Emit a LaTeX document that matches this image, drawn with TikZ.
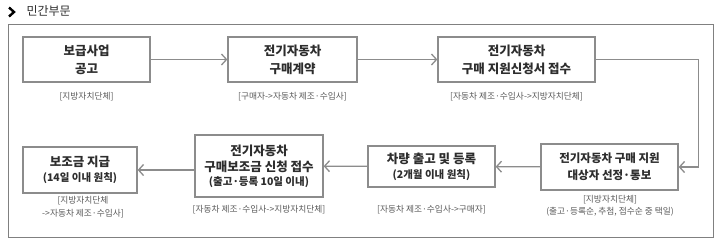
\documentclass[tikz,border=0pt]{standalone}
\usepackage{fontspec}
\setmainfont{Noto Sans CJK KR}
\usepackage{tikz}
\usetikzlibrary{arrows.meta}
\definecolor{framegray}{RGB}{128,128,128}
\definecolor{boxgray}{RGB}{140,140,140}
\definecolor{textdark}{RGB}{45,45,45}
\definecolor{notegray}{RGB}{90,90,90}
\newcommand{\subfont}{\fontsize{10.5}{13}\selectfont\bfseries}
\begin{document}
\begin{tikzpicture}[x=1pt,y=-1pt,
    stepbox/.style={draw=boxgray,line width=1.3pt,fill=white,align=center,inner sep=0pt,
      text=textdark,font=\fontsize{12.5}{18}\selectfont\bfseries},
    note/.style={align=center,text=notegray,font=\fontsize{8.7}{12.5}\selectfont},
    flow/.style={draw=boxgray,line width=1.3pt,-{Straight Barb[length=5pt,width=11pt]}}]
  \useasboundingbox (0,0) rectangle (723,247);
  % heading
  \draw[line width=2.4pt,black] (9,7.5)--(14,12)--(9,16.5);
  \node[anchor=west,text=textdark,font=\fontsize{12}{14}\selectfont] (title) at (23,11.5) {민간부문};
  \draw[framegray,line width=.9pt] (8,24) rectangle (713,237);
  % upper row
  \node[stepbox,minimum width=127,minimum height=45] (b1) at (86.5,59.5) {보급사업\\공고};
  \node[stepbox,minimum width=129,minimum height=45] (b2) at (292.5,59.5) {전기자동차\\구매계약};
  \node[stepbox,minimum width=157,minimum height=45] (b3) at (516.5,59.5) {전기자동차\\구매 지원신청서 접수};
  \node[note] (n1) at (86.5,97) {[지방자치단체]};
  \node[note] (n2) at (292.5,97) {[구매자->자동차 제조·수입사]};
  \node[note] (n3) at (516.5,97) {[자동차 제조·수입사->지방자치단체]};
  % lower row
  \node[stepbox,minimum width=137,minimum height=46,font=\fontsize{11.5}{17}\selectfont\bfseries] (b4) at (609.5,167) {전기자동차 구매 지원\\대상자 선정·통보};
  \node[stepbox,minimum width=127,minimum height=41] (b5) at (431.5,166.5) {차량 출고 및 등록\\[-3pt]{\subfont (2개월 이내 원칙)}};
  \node[stepbox,minimum width=128,minimum height=62,font=\fontsize{12.5}{16}\selectfont\bfseries] (b6) at (259,166) {전기자동차\\구매보조금 신청 접수\\[-2pt]{\subfont (출고·등록 10일 이내)}};
  \node[stepbox,minimum width=114,minimum height=46] (b7) at (80,170) {보조금 지급\\[-3pt]{\subfont (14일 이내 원칙)}};
  \node[note] (n4) at (610,206) {[지방자치단체]\\(출고·등록순, 추첨, 접수순 중 택일)};
  \node[note] (n5) at (431.5,210) {[자동차 제조·수입사->구매자]};
  \node[note] (n6) at (259,210) {[자동차 제조·수입사->지방자치단체]};
  \node[note] (n7) at (83,207) {[지방자치단체\\->자동차 제조·수입사]};
  % connectors
  \draw[flow] (b1) -- (b2);
  \draw[flow] (b2) -- (b3);
  \draw[flow] (b3.east) -- ++(103,0) |- (b4.east);
  \draw[flow] (b4) -- (b5);
  \draw[flow] (b5) -- (b6);
  \draw[flow] (b6.west |- b7) -- (b7);
\end{tikzpicture}
\end{document}
